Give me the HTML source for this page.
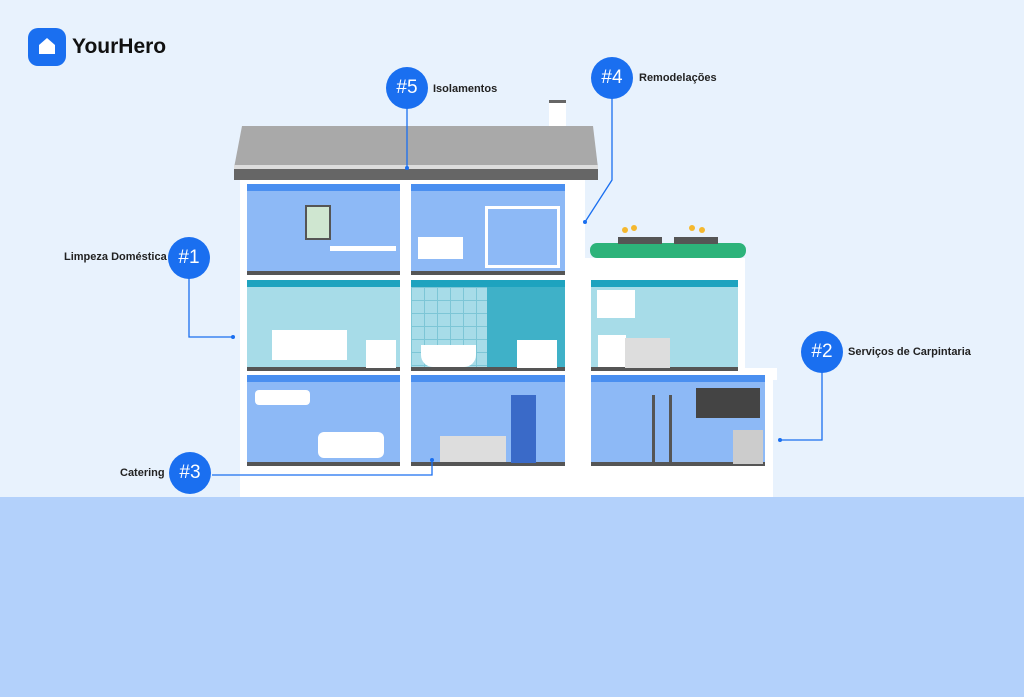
<!DOCTYPE html>
<html><head><meta charset="utf-8"><style>
*{margin:0;padding:0;box-sizing:border-box}
body{width:1024px;height:697px;position:relative;overflow:hidden;background:#e8f2fd;font-family:"Liberation Sans",sans-serif}
.a{position:absolute}
.c{position:absolute;width:42px;height:42px;border-radius:50%;background:#1a6ff0;color:#fff;font-size:19px;text-align:center;line-height:42px}
.t{position:absolute;font-size:11px;font-weight:bold;color:#222}
.room{position:absolute;border-top:7px solid #4a8ff0;border-bottom:4px solid #555}
</style></head><body>
<div class="a" style="left:0;top:497px;width:1024px;height:200px;background:#b3d1fb"></div>
<!-- logo -->
<div class="a" style="left:28px;top:28px;width:38px;height:38px;border-radius:10px;background:#1a6ff0"></div>
<svg class="a" style="left:37px;top:36px" width="20" height="20"><path d="M2 9 L10 2 L18 9 V18 H2Z" fill="#fff"/></svg>
<div class="a" style="left:72px;top:35px;font-size:21px;font-weight:bold;color:#111">YourHero</div>
<!-- house body -->
<div class="a" style="left:240px;top:178px;width:345px;height:319px;background:#fff"></div>
<div class="a" style="left:585px;top:258px;width:160px;height:114px;background:#fff"></div>
<div class="a" style="left:585px;top:368px;width:188px;height:129px;background:#fff"></div>
<div class="a" style="left:771px;top:368px;width:6px;height:12px;background:#fff"></div>
<!-- chimney -->
<div class="a" style="left:549px;top:100px;width:17px;height:28px;background:#fff;border-top:3px solid #666"></div>
<!-- roof -->
<svg class="a" style="left:0;top:0" width="1024" height="697">
<polygon points="242,126 593,126 598,168 234,168" fill="#a9a9a9"/>
<rect x="234" y="165" width="364" height="4" fill="#ddd"/>
<rect x="234" y="169" width="364" height="11" fill="#666"/>
<!-- bush -->
<rect x="590" y="243" width="156" height="15" rx="7" fill="#2db37a"/>
<rect x="592" y="258" width="152" height="16" fill="#fff"/>
<rect x="618" y="237" width="44" height="7" fill="#555"/><rect x="674" y="237" width="44" height="7" fill="#555"/>
<circle cx="625" cy="230" r="3" fill="#f5b82e"/><circle cx="634" cy="228" r="3" fill="#f5b82e"/><circle cx="692" cy="228" r="3" fill="#f5b82e"/><circle cx="702" cy="230" r="3" fill="#f5b82e"/>
</svg>
<!-- rooms -->
<div class="room" style="left:247px;top:184px;width:153px;height:91px;background:#8db9f6"></div>
<div class="room" style="left:411px;top:184px;width:154px;height:91px;background:#8db9f6"></div>
<div class="room" style="left:247px;top:280px;width:153px;height:91px;background:#a7dce8;border-top-color:#1ea3bf"></div>
<div class="room" style="left:411px;top:280px;width:76px;height:91px;background:#a7dce8;border-top-color:#1ea3bf;background-image:linear-gradient(#7dc6d6 1px,transparent 1px),linear-gradient(90deg,#7dc6d6 1px,transparent 1px);background-size:13px 13px"></div>
<div class="room" style="left:487px;top:280px;width:78px;height:91px;background:#3fb1c8;border-top-color:#1ea3bf"></div>
<div class="room" style="left:247px;top:375px;width:153px;height:91px;background:#8db9f6"></div>
<div class="room" style="left:411px;top:375px;width:154px;height:91px;background:#8db9f6"></div>
<div class="room" style="left:591px;top:280px;width:147px;height:91px;background:#a7dce8;border-top-color:#1ea3bf"></div>
<div class="room" style="left:591px;top:375px;width:174px;height:91px;background:#8db9f6"></div>
<!-- furniture -->
<div class="a" style="left:330px;top:246px;width:66px;height:5px;background:#fff"></div>
<div class="a" style="left:305px;top:205px;width:26px;height:35px;background:#cfe6d0;border:2px solid #555"></div>
<div class="a" style="left:418px;top:237px;width:45px;height:22px;background:#fff"></div>
<div class="a" style="left:485px;top:206px;width:75px;height:62px;border:3px solid #fff"></div>
<div class="a" style="left:272px;top:330px;width:75px;height:30px;background:#fff"></div>
<div class="a" style="left:366px;top:340px;width:30px;height:28px;background:#fff"></div>
<div class="a" style="left:421px;top:345px;width:55px;height:22px;background:#fff;border-radius:0 0 12px 12px"></div>
<div class="a" style="left:517px;top:340px;width:40px;height:28px;background:#fff"></div>
<div class="a" style="left:255px;top:390px;width:55px;height:15px;background:#fff;border-radius:4px"></div>
<div class="a" style="left:318px;top:432px;width:66px;height:26px;background:#fff;border-radius:6px"></div>
<div class="a" style="left:511px;top:395px;width:25px;height:68px;background:#3a6ac8"></div>
<div class="a" style="left:440px;top:436px;width:66px;height:26px;background:#ddd"></div>
<div class="a" style="left:597px;top:290px;width:38px;height:28px;background:#fff"></div>
<div class="a" style="left:598px;top:335px;width:28px;height:32px;background:#fff"></div>
<div class="a" style="left:625px;top:338px;width:45px;height:30px;background:#ddd"></div>
<div class="a" style="left:696px;top:388px;width:64px;height:30px;background:#444"></div>
<div class="a" style="left:733px;top:430px;width:30px;height:34px;background:#ccc"></div>
<div class="a" style="left:652px;top:395px;width:20px;height:68px;border-left:3px solid #555;border-right:3px solid #555"></div>
<!-- connectors -->
<svg class="a" style="left:0;top:0" width="1024" height="697">
<g stroke="#1a6ff0" stroke-width="1.3" fill="none">
<line x1="407" y1="100" x2="407" y2="168"/>
<polyline points="612,90 612,180 585,222"/>
<polyline points="189,270 189,337 233,337"/>
<polyline points="822,360 822,440 780,440"/>
<polyline points="212,475 432,475 432,460"/>
</g>
<g fill="#1a6ff0"><circle cx="407" cy="168" r="2"/><circle cx="585" cy="222" r="2"/><circle cx="233" cy="337" r="2"/><circle cx="780" cy="440" r="2"/><circle cx="432" cy="460" r="2"/></g>
</svg>
<div class="c" style="left:386px;top:67px">#5</div><div class="t" style="left:433px;top:83px">Isolamentos</div>
<div class="c" style="left:591px;top:57px">#4</div><div class="t" style="left:639px;top:72px">Remodelações</div>
<div class="c" style="left:168px;top:237px">#1</div><div class="t" style="left:64px;top:251px">Limpeza Doméstica</div>
<div class="c" style="left:801px;top:331px">#2</div><div class="t" style="left:848px;top:346px">Serviços de Carpintaria</div>
<div class="c" style="left:169px;top:452px">#3</div><div class="t" style="left:120px;top:467px">Catering</div>
</body></html>
